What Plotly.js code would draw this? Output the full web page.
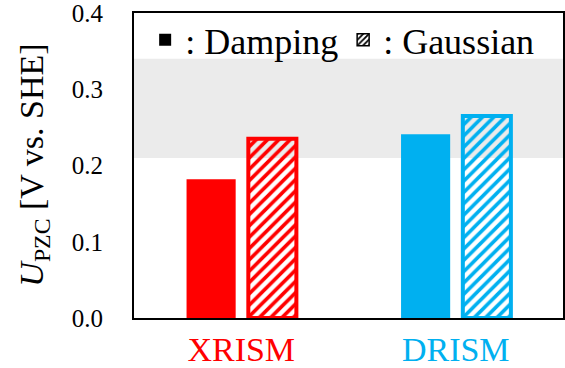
<!DOCTYPE html>
<html>
<head>
<meta charset="utf-8">
<script src="https://cdn.plot.ly/plotly-3.0.1.min.js"></script>
<style>
  html, body { margin: 0; padding: 0; background: #fff; }
  #chart { width: 565px; height: 368px; }
</style>
</head>
<body>
<div id="chart"></div>
<script>
// Potential of zero charge from two solvation models, two smearing schemes
const categories = ['XRISM', 'DRISM'];
const categoryColors = ['#FF0000', '#00B0F0'];
const dampingValues = [0.182, 0.241];
const gaussianValues = [0.235, 0.265];
const bandRange = [0.21, 0.34];          // shaded reference window
const yTickVals = [0.0, 0.1, 0.2, 0.3, 0.4];
const legendNames = [': Damping', ': Gaussian'];

const serif = 'Liberation Serif';

const traces = [
  {
    type: 'bar',
    x: categories,
    y: dampingValues,
    width: 0.229,
    offset: -0.255,
    marker: { color: categoryColors, line: { width: 0 } },
    showlegend: false,
    hoverinfo: 'x+y'
  },
  {
    type: 'bar',
    x: categories,
    y: gaussianValues,
    width: 0.224,
    offset: 0.033,
    marker: {
      color: categoryColors,
      line: { color: categoryColors, width: 4 },
      pattern: { shape: '/', fgcolor: categoryColors, bgcolor: '#ffffff', size: 8, solidity: 0.45 }
    },
    showlegend: false,
    hoverinfo: 'x+y'
  },
  // legend keys (black swatches)
  {
    type: 'bar', x: [null], y: [null], name: legendNames[0],
    marker: { color: '#000000', line: { width: 0 } },
    showlegend: true
  },
  {
    type: 'bar', x: [null], y: [null], name: legendNames[1],
    marker: {
      color: '#000000',
      line: { color: '#000000', width: 1.5 },
      pattern: { shape: '/', fgcolor: '#000000', bgcolor: '#ffffff', size: 5, solidity: 0.45 }
    },
    showlegend: true
  }
];

const layout = {
  width: 565,
  height: 368,
  margin: { l: 134, r: 2, t: 13, b: 50, pad: 0 },
  paper_bgcolor: '#ffffff',
  plot_bgcolor: '#ffffff',
  barmode: 'overlay',
  font: { family: serif, color: '#000000', size: 25 },
  showlegend: true,
  legend: {
    orientation: 'h',
    x: 0.026, xanchor: 'left',
    y: 0.912, yanchor: 'middle',
    bgcolor: 'rgba(0,0,0,0)',
    font: { family: serif, size: 36 },
    traceorder: 'normal'
  },
  xaxis: {
    type: 'category',
    range: [-0.5, 1.5],
    tickvals: categories,
    ticktext: categories.map((c, i) => '<span style="color:' + categoryColors[i] + '">' + c + '</span>'),
    tickfont: { family: serif, size: 34 },
    showline: true, linecolor: '#000000', linewidth: 2, mirror: true,
    ticks: '', showgrid: false, zeroline: false,
    fixedrange: true
  },
  yaxis: {
    range: [0, 0.4],
    tickvals: yTickVals,
    tickformat: '.1f',
    tickfont: { family: serif, size: 25 },
    ticklabelstandoff: 24,
    ticklabeloverflow: 'allow',
    showline: true, linecolor: '#000000', linewidth: 2, mirror: true,
    ticks: '', showgrid: false, zeroline: false,
    fixedrange: true
  },
  shapes: [
    {
      type: 'rect', layer: 'below',
      xref: 'paper', x0: 0, x1: 1,
      yref: 'y', y0: bandRange[0], y1: bandRange[1],
      fillcolor: '#EBEBEB', line: { width: 0 }
    }
  ],
  annotations: [
    {
      text: '<i>U</i><sub>PZC</sub> [V vs. SHE]',
      xref: 'paper', yref: 'paper',
      x: -0.235, y: 0.5,
      xanchor: 'center', yanchor: 'middle',
      textangle: -90,
      showarrow: false,
      font: { family: serif, size: 34 }
    }
  ]
};

Plotly.newPlot('chart', traces, layout, { displayModeBar: false, staticPlot: true });
</script>
</body>
</html>
